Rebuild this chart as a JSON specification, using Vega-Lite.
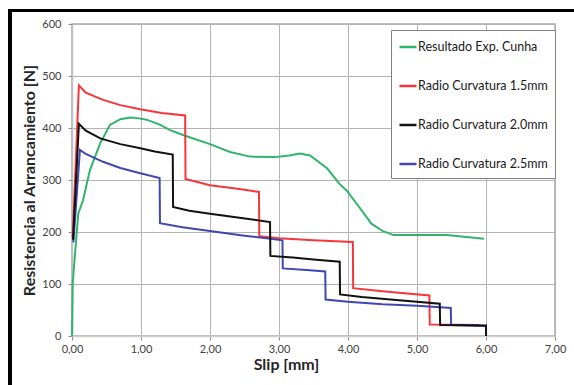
{
  "$schema": "https://vega.github.io/schema/vega-lite/v6.json",
  "width": 483,
  "height": 312,
  "autosize": {"type": "none"},
  "padding": {"left": 72, "top": 24, "right": 19, "bottom": 49},
  "background": "white",
  "config": {
    "font": "Lato",
    "view": {"stroke": "#a6a6a6", "strokeWidth": 1.5},
    "axis": {
      "grid": true,
      "gridColor": "#b4b4b4",
      "gridWidth": 1,
      "tickColor": "#8c8c8c",
      "tickSize": 4,
      "labelColor": "#404040",
      "labelFont": "Lato",
      "labelFontSize": 11,
      "labelFlush": false,
      "titleFont": "Lato",
      "titleFontSize": 16,
      "titleFontWeight": "bold",
      "titleColor": "#262626"
    }
  },
  "data": {
    "values": [
      {"serie": "Resultado Exp. Cunha", "slip": 0, "f": 0},
      {"serie": "Resultado Exp. Cunha", "slip": 0.01, "f": 100},
      {"serie": "Resultado Exp. Cunha", "slip": 0.04, "f": 152},
      {"serie": "Resultado Exp. Cunha", "slip": 0.09, "f": 235},
      {"serie": "Resultado Exp. Cunha", "slip": 0.16, "f": 261},
      {"serie": "Resultado Exp. Cunha", "slip": 0.26, "f": 319},
      {"serie": "Resultado Exp. Cunha", "slip": 0.41, "f": 371},
      {"serie": "Resultado Exp. Cunha", "slip": 0.55, "f": 406},
      {"serie": "Resultado Exp. Cunha", "slip": 0.7, "f": 417},
      {"serie": "Resultado Exp. Cunha", "slip": 0.85, "f": 420},
      {"serie": "Resultado Exp. Cunha", "slip": 0.95, "f": 419},
      {"serie": "Resultado Exp. Cunha", "slip": 1.08, "f": 416},
      {"serie": "Resultado Exp. Cunha", "slip": 1.28, "f": 406},
      {"serie": "Resultado Exp. Cunha", "slip": 1.42, "f": 396},
      {"serie": "Resultado Exp. Cunha", "slip": 1.64, "f": 385},
      {"serie": "Resultado Exp. Cunha", "slip": 2.0, "f": 369},
      {"serie": "Resultado Exp. Cunha", "slip": 2.29, "f": 354},
      {"serie": "Resultado Exp. Cunha", "slip": 2.58, "f": 345},
      {"serie": "Resultado Exp. Cunha", "slip": 2.94, "f": 344},
      {"serie": "Resultado Exp. Cunha", "slip": 3.15, "f": 347},
      {"serie": "Resultado Exp. Cunha", "slip": 3.3, "f": 351},
      {"serie": "Resultado Exp. Cunha", "slip": 3.45, "f": 347},
      {"serie": "Resultado Exp. Cunha", "slip": 3.7, "f": 322},
      {"serie": "Resultado Exp. Cunha", "slip": 3.88, "f": 292},
      {"serie": "Resultado Exp. Cunha", "slip": 3.98, "f": 280},
      {"serie": "Resultado Exp. Cunha", "slip": 4.15, "f": 250},
      {"serie": "Resultado Exp. Cunha", "slip": 4.34, "f": 216},
      {"serie": "Resultado Exp. Cunha", "slip": 4.5, "f": 202},
      {"serie": "Resultado Exp. Cunha", "slip": 4.66, "f": 194},
      {"serie": "Resultado Exp. Cunha", "slip": 5.43, "f": 194},
      {"serie": "Resultado Exp. Cunha", "slip": 5.97, "f": 187},

      {"serie": "Radio Curvatura 1.5mm", "slip": 0.01, "f": 190},
      {"serie": "Radio Curvatura 1.5mm", "slip": 0.1, "f": 482},
      {"serie": "Radio Curvatura 1.5mm", "slip": 0.2, "f": 468},
      {"serie": "Radio Curvatura 1.5mm", "slip": 0.45, "f": 454},
      {"serie": "Radio Curvatura 1.5mm", "slip": 0.7, "f": 444},
      {"serie": "Radio Curvatura 1.5mm", "slip": 0.99, "f": 436},
      {"serie": "Radio Curvatura 1.5mm", "slip": 1.3, "f": 429},
      {"serie": "Radio Curvatura 1.5mm", "slip": 1.64, "f": 424},
      {"serie": "Radio Curvatura 1.5mm", "slip": 1.645, "f": 302},
      {"serie": "Radio Curvatura 1.5mm", "slip": 2.0, "f": 290},
      {"serie": "Radio Curvatura 1.5mm", "slip": 2.4, "f": 283},
      {"serie": "Radio Curvatura 1.5mm", "slip": 2.71, "f": 277},
      {"serie": "Radio Curvatura 1.5mm", "slip": 2.715, "f": 192},
      {"serie": "Radio Curvatura 1.5mm", "slip": 3.0, "f": 188},
      {"serie": "Radio Curvatura 1.5mm", "slip": 3.5, "f": 184},
      {"serie": "Radio Curvatura 1.5mm", "slip": 4.07, "f": 181},
      {"serie": "Radio Curvatura 1.5mm", "slip": 4.075, "f": 92},
      {"serie": "Radio Curvatura 1.5mm", "slip": 4.5, "f": 86},
      {"serie": "Radio Curvatura 1.5mm", "slip": 5.18, "f": 78},
      {"serie": "Radio Curvatura 1.5mm", "slip": 5.185, "f": 22},
      {"serie": "Radio Curvatura 1.5mm", "slip": 5.9, "f": 21},

      {"serie": "Radio Curvatura 2.5mm", "slip": 0.02, "f": 180},
      {"serie": "Radio Curvatura 2.5mm", "slip": 0.115, "f": 358},
      {"serie": "Radio Curvatura 2.5mm", "slip": 0.2, "f": 350},
      {"serie": "Radio Curvatura 2.5mm", "slip": 0.45, "f": 335},
      {"serie": "Radio Curvatura 2.5mm", "slip": 0.7, "f": 323},
      {"serie": "Radio Curvatura 2.5mm", "slip": 0.99, "f": 313},
      {"serie": "Radio Curvatura 2.5mm", "slip": 1.27, "f": 304},
      {"serie": "Radio Curvatura 2.5mm", "slip": 1.275, "f": 217},
      {"serie": "Radio Curvatura 2.5mm", "slip": 1.6, "f": 209},
      {"serie": "Radio Curvatura 2.5mm", "slip": 2.0, "f": 202},
      {"serie": "Radio Curvatura 2.5mm", "slip": 2.5, "f": 193},
      {"serie": "Radio Curvatura 2.5mm", "slip": 3.05, "f": 184},
      {"serie": "Radio Curvatura 2.5mm", "slip": 3.055, "f": 130},
      {"serie": "Radio Curvatura 2.5mm", "slip": 3.4, "f": 127},
      {"serie": "Radio Curvatura 2.5mm", "slip": 3.67, "f": 124},
      {"serie": "Radio Curvatura 2.5mm", "slip": 3.675, "f": 70},
      {"serie": "Radio Curvatura 2.5mm", "slip": 4.0, "f": 66},
      {"serie": "Radio Curvatura 2.5mm", "slip": 4.5, "f": 61},
      {"serie": "Radio Curvatura 2.5mm", "slip": 5.0, "f": 58},
      {"serie": "Radio Curvatura 2.5mm", "slip": 5.49, "f": 54},
      {"serie": "Radio Curvatura 2.5mm", "slip": 5.495, "f": 21},
      {"serie": "Radio Curvatura 2.5mm", "slip": 6.0, "f": 19},

      {"serie": "Radio Curvatura 2.0mm", "slip": 0.015, "f": 185},
      {"serie": "Radio Curvatura 2.0mm", "slip": 0.1, "f": 408},
      {"serie": "Radio Curvatura 2.0mm", "slip": 0.2, "f": 395},
      {"serie": "Radio Curvatura 2.0mm", "slip": 0.41, "f": 380},
      {"serie": "Radio Curvatura 2.0mm", "slip": 0.7, "f": 369},
      {"serie": "Radio Curvatura 2.0mm", "slip": 0.99, "f": 361},
      {"serie": "Radio Curvatura 2.0mm", "slip": 1.2, "f": 355},
      {"serie": "Radio Curvatura 2.0mm", "slip": 1.46, "f": 349},
      {"serie": "Radio Curvatura 2.0mm", "slip": 1.465, "f": 248},
      {"serie": "Radio Curvatura 2.0mm", "slip": 1.7, "f": 241},
      {"serie": "Radio Curvatura 2.0mm", "slip": 2.0, "f": 235},
      {"serie": "Radio Curvatura 2.0mm", "slip": 2.4, "f": 228},
      {"serie": "Radio Curvatura 2.0mm", "slip": 2.87, "f": 219},
      {"serie": "Radio Curvatura 2.0mm", "slip": 2.875, "f": 154},
      {"serie": "Radio Curvatura 2.0mm", "slip": 3.2, "f": 151},
      {"serie": "Radio Curvatura 2.0mm", "slip": 3.5, "f": 147},
      {"serie": "Radio Curvatura 2.0mm", "slip": 3.88, "f": 143},
      {"serie": "Radio Curvatura 2.0mm", "slip": 3.885, "f": 80},
      {"serie": "Radio Curvatura 2.0mm", "slip": 4.2, "f": 75},
      {"serie": "Radio Curvatura 2.0mm", "slip": 4.7, "f": 69},
      {"serie": "Radio Curvatura 2.0mm", "slip": 5.33, "f": 62},
      {"serie": "Radio Curvatura 2.0mm", "slip": 5.335, "f": 21},
      {"serie": "Radio Curvatura 2.0mm", "slip": 6.0, "f": 20},
      {"serie": "Radio Curvatura 2.0mm", "slip": 6.001, "f": 0}
    ]
  },
  "layer": [
    {
      "mark": {"type": "line", "strokeWidth": 2, "clip": false},
      "encoding": {
        "x": {
          "field": "slip",
          "type": "quantitative",
          "scale": {"domain": [0, 7], "nice": false},
          "axis": {
            "values": [0, 1, 2, 3, 4, 5, 6, 7],
            "grid": true,
            "gridColor": "#b4b4b4",
            "gridWidth": 1,
            "labelExpr": "replace(format(datum.value, '.2f'), '.', ',')",
            "labelPadding": 3,
            "labelFlush": false,
            "domainColor": "#d0d0d0",
            "domainWidth": 1.5,
            "title": "Slip [mm]",
            "titleX": 214,
            "titlePadding": 2
          }
        },
        "y": {
          "field": "f",
          "type": "quantitative",
          "scale": {"domain": [0, 600], "nice": false},
          "axis": {
            "values": [0, 100, 200, 300, 400, 500, 600],
            "grid": true,
            "gridColor": "#b4b4b4",
            "gridWidth": 1,
            "labelPadding": 7,
            "domainColor": "#c0c0c0",
            "domainWidth": 1.5,
            "title": "Resistencia al Arrancamiento [N]",
            "titlePadding": 4
          }
        },
        "color": {
          "field": "serie",
          "type": "nominal",
          "scale": {
            "domain": ["Resultado Exp. Cunha", "Radio Curvatura 1.5mm", "Radio Curvatura 2.0mm", "Radio Curvatura 2.5mm"],
            "range": ["#2fb56c", "#f5363a", "#111111", "#4048b0"]
          },
          "legend": {
            "title": null,
            "orient": "none",
            "legendX": 319,
            "legendY": 6,
            "symbolType": "stroke",
            "symbolSize": 289,
            "symbolStrokeWidth": 2.5,
            "labelFont": "Lato",
            "labelFontSize": 12.5,
            "labelColor": "#1a1a1a",
            "labelOffset": 0,
            "labelLimit": 200,
            "rowPadding": 22,
            "padding": 7,
            "strokeColor": "#808080",
            "fillColor": "white"
          }
        },
        "detail": {"field": "serie"}
      }
    },
    {
      "mark": {"type": "rect", "fill": "transparent", "stroke": "black", "strokeWidth": 2.5, "clip": false},
      "encoding": {
        "x": {"datum": -0.9, "type": "quantitative", "axis": {"grid": true, "gridColor": "#b4b4b4", "values": [0, 1, 2, 3, 4, 5, 6, 7]}},
        "x2": {"datum": 7.6},
        "y": {"datum": 626, "type": "quantitative", "axis": {"grid": true, "gridColor": "#b4b4b4", "values": [0, 100, 200, 300, 400, 500, 600]}},
        "y2": {"datum": -130}
      }
    }
  ]
}
